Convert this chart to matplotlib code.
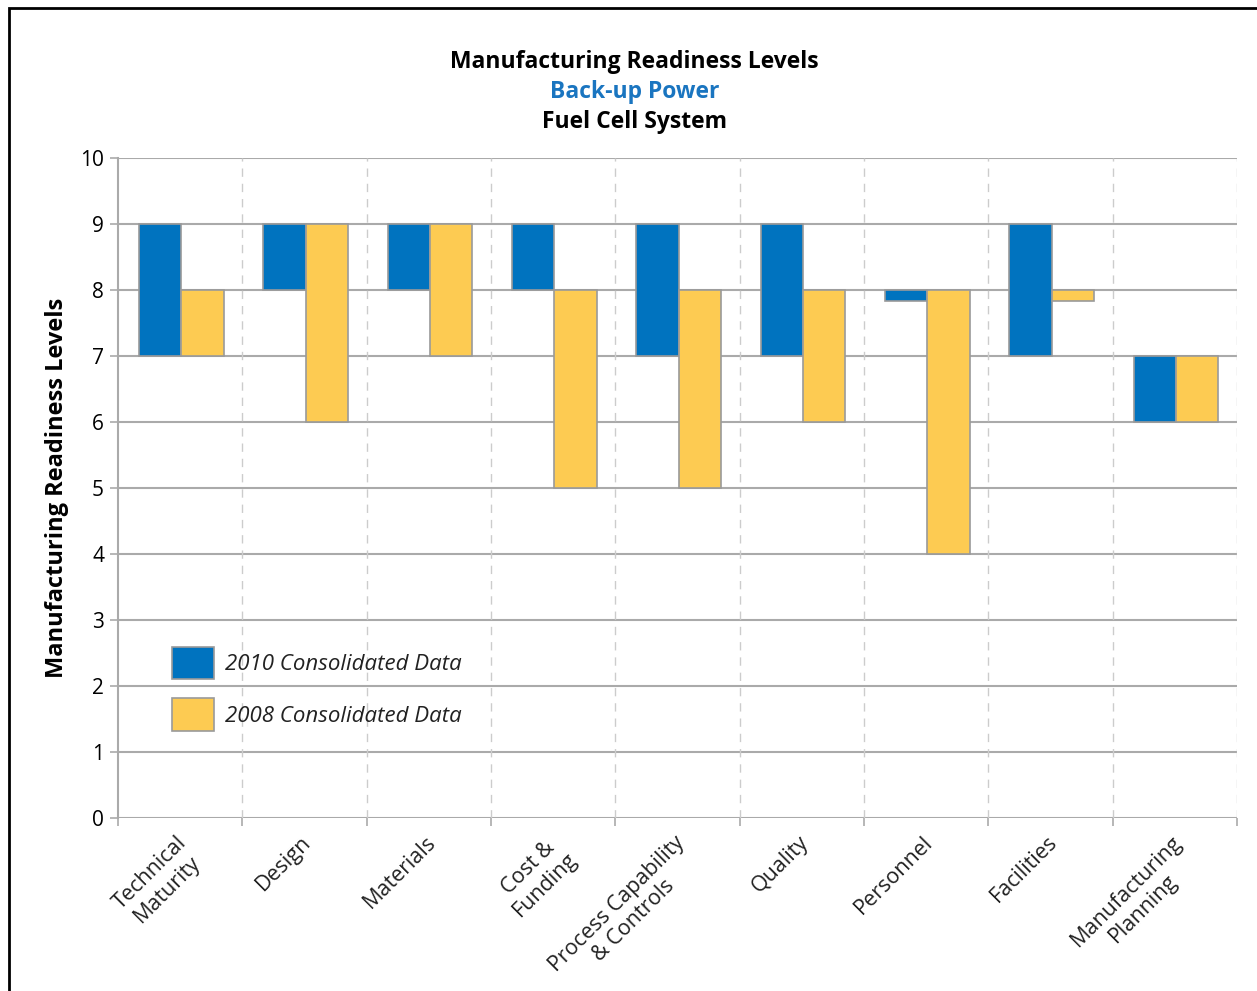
import numpy as np
import matplotlib.pyplot as plt
from matplotlib.patches import Rectangle

categories = ["Technical\nMaturity", "Design", "Materials", "Cost &\nFunding",
              "Process Capability\n& Controls", "Quality", "Personnel",
              "Facilities", "Manufacturing\nPlanning"]

# readiness level ranges (low, high) per category
low_2010 = [7, 8, 8, 8, 7, 7, 7.83, 7, 6]
high_2010 = [9, 9, 9, 9, 9, 9, 8, 9, 7]
low_2008 = [7, 6, 7, 5, 5, 6, 4, 7.83, 6]
high_2008 = [8, 9, 9, 8, 8, 8, 8, 8, 7]

blue = "#0073BF"
yellow = "#FDCB52"
edge = "#9a9a9a"

plt.rcParams['font.family'] = ['Open Sans', 'DejaVu Sans']

fig = plt.figure(figsize=(12.57, 9.91), dpi=100)
ax = fig.add_axes([118 / 1257, 1 - 818 / 991, 1119 / 1257, 660 / 991])

x = np.arange(len(categories))
w = 0.34
ax.bar(x - 0.16, np.array(high_2010) - np.array(low_2010), w, bottom=low_2010,
       color=blue, edgecolor=edge, linewidth=1.2, label="2010 Consolidated Data", zorder=3)
ax.bar(x + 0.18, np.array(high_2008) - np.array(low_2008), w, bottom=low_2008,
       color=yellow, edgecolor=edge, linewidth=1.2, label="2008 Consolidated Data", zorder=3)

ax.set_xlim(-0.5, len(categories) - 0.5)
ax.set_ylim(0, 10)

# horizontal grid
for yv in range(0, 11):
    ax.axhline(yv, color="#aaaaaa", lw=1.5, zorder=1)
# dashed separators between categories
for xv in np.arange(0.5, len(categories), 1):
    ax.axvline(xv, color="#cccccc", lw=1, ls=(0, (6, 5)), zorder=1)

for s in ["top", "right", "bottom"]:
    ax.spines[s].set_visible(False)
ax.spines["left"].set_color("#aaaaaa")
ax.spines["left"].set_linewidth(1.5)

ax.set_yticks(range(0, 11))
ax.tick_params(axis="y", length=6, width=1.2, color="#aaaaaa", labelsize=15, pad=4)

# tick marks at category boundaries, labels at category centres
ax.set_xticks(np.arange(-0.5, len(categories), 1))
ax.set_xticklabels([])
ax.tick_params(axis="x", which="major", length=6, width=1.2, color="#aaaaaa")
ax.set_xticks(x - 0.03, minor=True)
ax.set_xticklabels(categories, minor=True, rotation=45, ha="right",
                   rotation_mode="anchor", multialignment="center",
                   fontsize=15.5, color="#222222")
ax.tick_params(axis="x", which="minor", length=0, pad=10)

ax.set_ylabel("Manufacturing Readiness Levels", fontsize=17, fontweight="bold", labelpad=8)

leg = ax.legend(loc="upper left", bbox_to_anchor=(0.03, 0.29), frameon=False,
                prop={"style": "italic", "size": 16}, handlelength=1.9,
                handleheight=1.9, labelspacing=0.85, handletextpad=0.5)
for t in leg.get_texts():
    t.set_color("#222222")

fig.text(0.505, 1 - 62 / 991, "Manufacturing Readiness Levels", ha="center", va="center",
         fontsize=16.5, fontweight="bold")
fig.text(0.505, 1 - 92 / 991, "Back-up Power", ha="center", va="center",
         fontsize=16.5, fontweight="bold", color="#1A75C0")
fig.text(0.505, 1 - 122 / 991, "Fuel Cell System", ha="center", va="center",
         fontsize=16.5, fontweight="bold")

# outer frame
fig.patches.append(Rectangle((9 / 1257, -0.05), 1.0, 1 - 8 / 991 + 0.05,
                             transform=fig.transFigure, fill=False,
                             edgecolor="black", lw=2))

fig.savefig("out.png", dpi=100)
